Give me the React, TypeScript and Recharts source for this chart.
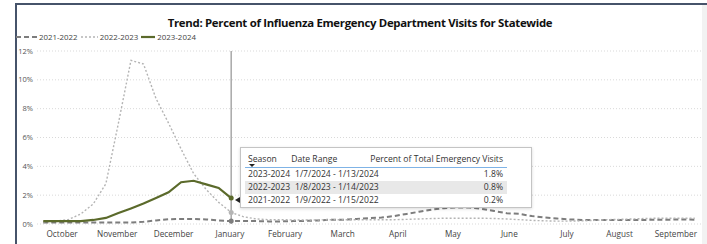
import React from "react";
import { LineChart, Line, XAxis, YAxis, CartesianGrid, Tooltip } from "recharts";

// weekly % of ED visits, week 0 = last week of September
const flu2122 = [
  0.1, 0.1, 0.1, 0.1, 0.1, 0.1, 0.1, 0.1, 0.15, 0.25, 0.33, 0.35, 0.35, 0.32,
  0.25, 0.2, 0.2, 0.2, 0.18, 0.18, 0.2, 0.22, 0.25, 0.3, 0.3, 0.35, 0.4, 0.45,
  0.55, 0.7, 0.85, 1.0, 1.1, 1.15, 1.15, 1.05, 0.9, 0.75, 0.7, 0.55, 0.45,
  0.38, 0.32, 0.28, 0.27, 0.27, 0.27, 0.27, 0.28, 0.3, 0.3, 0.32, 0.3,
];
const flu2223 = [
  0.15, 0.2, 0.3, 0.7, 1.4, 2.8, 7.0, 11.35, 11.1, 8.7, 7.0, 5.2, 3.5, 2.4,
  1.5, 0.8, 0.5, 0.35, 0.3, 0.3, 0.28, 0.28, 0.28, 0.3, 0.3, 0.3, 0.3, 0.3,
  0.3, 0.32, 0.35, 0.38, 0.4, 0.4, 0.4, 0.4, 0.38, 0.35, 0.3, 0.25, 0.22, 0.2,
  0.2, 0.22, 0.25, 0.3, 0.32, 0.35, 0.38, 0.4, 0.4, 0.4, 0.4,
];
const flu2324 = [
  0.2, 0.2, 0.2, 0.2, 0.28, 0.42, 0.76, 1.08, 1.42, 1.8, 2.2, 2.9, 3.0, 2.75,
  2.5, 1.8,
];

const monthTicks = [1.5, 5.9, 10.4, 14.9, 19.3, 23.9, 28.3, 32.7, 37.2, 41.8, 46, 50.5];
const monthLabels = [
  "October", "November", "December", "January", "February", "March",
  "April", "May", "June", "July", "August", "September",
];
const yTicks = [0, 2, 4, 6, 8, 10, 12];

const hoverWeek = 15;
const tipSeasons = ["2023-2024", "2022-2023", "2021-2022"];
const tipRanges = ["1/7/2024 - 1/13/2024", "1/8/2023 - 1/14/2023", "1/9/2022 - 1/15/2022"];
const tipSeries = [flu2324, flu2223, flu2122];

const series = [
  { key: "s2122", name: "2021-2022", color: "#7d7d7d", dash: "5 3", width: 2, swatch: 21 },
  { key: "s2223", name: "2022-2023", color: "#b4b4b4", dash: "2 2", width: 1.4, swatch: 17 },
  { key: "s2324", name: "2023-2024", color: "#5b6a2b", dash: undefined, width: 2.2, swatch: 14 },
];

const data = flu2122.map((v, i) => ({
  week: i,
  s2122: v,
  s2223: flu2223[i] ?? null,
  s2324: flu2324[i] ?? null,
}));

const FONT = '"Segoe UI", "Open Sans", sans-serif';

function HoverTable() {
  const cell = { fontSize: 8.6, color: "#333", whiteSpace: "nowrap" as const };
  return (
    <div
      style={{
        position: "absolute",
        left: 240,
        top: 147,
        boxSizing: "border-box",
        width: 292,
        height: 61,
        background: "#fff",
        border: "1px solid #c4c4c4",
        boxShadow: "0 1px 3px rgba(0,0,0,0.15)",
        fontFamily: FONT,
        zIndex: 5,
      }}
    >
      <div
        style={{
          position: "absolute",
          left: -6,
          top: 49,
          width: 0,
          height: 0,
          borderTop: "3.5px solid transparent",
          borderBottom: "3.5px solid transparent",
          borderRight: "5px solid #222",
        }}
      />
      <div style={{ position: "absolute", left: 4, top: 2, width: 262 }}>
        <div style={{ display: "flex", height: 17, alignItems: "center", borderBottom: "1.5px solid #7fb3e6", position: "relative" }}>
          <div style={{ ...cell, width: 47, paddingLeft: 3 }}>Season</div>
          <div style={{ ...cell, width: 86 }}>Date Range</div>
          <div style={{ ...cell, flex: 1, textAlign: "right", paddingRight: 4 }}>
            Percent of Total Emergency Visits
          </div>
          <div
            style={{
              position: "absolute",
              left: 4,
              bottom: 0,
              width: 0,
              height: 0,
              borderLeft: "3px solid transparent",
              borderRight: "3px solid transparent",
              borderTop: "3px solid #222",
            }}
          />
        </div>
        {tipSeasons.map((s, i) => (
          <div
            key={s}
            style={{
              display: "flex",
              height: 12.8,
              alignItems: "center",
              background: i === 1 ? "#e8e8e8" : "transparent",
            }}
          >
            <div style={{ ...cell, width: 47, paddingLeft: 3 }}>{s}</div>
            <div style={{ ...cell, width: 86 }}>{tipRanges[i]}</div>
            <div style={{ ...cell, flex: 1, textAlign: "right", paddingRight: 4 }}>
              {tipSeries[i][hoverWeek].toFixed(1)}%
            </div>
          </div>
        ))}
      </div>
    </div>
  );
}

export default function App() {
  return (
    <div
      style={{
        position: "absolute",
        left: 0,
        top: 0,
        width: 707,
        height: 244,
        background: "#fff",
        overflow: "hidden",
        fontFamily: FONT,
      }}
    >
      <LineChart
        width={707}
        height={244}
        data={data}
        margin={{ top: 51, right: 6, bottom: 0, left: 17 }}
      >
        <CartesianGrid vertical={false} stroke="#d9d9d9" strokeDasharray="1 2" />
        <XAxis
          dataKey="week"
          type="number"
          domain={[-0.5, 52.5]}
          ticks={monthTicks}
          interval={0}
          tickFormatter={(v) => monthLabels[monthTicks.indexOf(v)] ?? ""}
          axisLine={false}
          tickLine={false}
          tickSize={0}
          tickMargin={7}
          height={20}
          tick={{ fontSize: 8.2, fill: "#444", fontFamily: FONT }}
        />
        <YAxis
          domain={[0, 12]}
          ticks={yTicks}
          tickFormatter={(v) => `${v}%`}
          axisLine={false}
          tickLine={false}
          tickSize={0}
          tickMargin={4}
          width={20}
          tick={{ fontSize: 7.5, fill: "#555", fontFamily: FONT }}
        />
        {/* hover state: cursor line + active dots only, table drawn below */}
        <Tooltip
          defaultIndex={hoverWeek}
          content={() => null}
          isAnimationActive={false}
          cursor={{ stroke: "#a8a8a8", strokeWidth: 1.5 }}
        />
        {series.map((s) => (
          <Line
            key={s.key}
            dataKey={s.key}
            name={s.name}
            type="linear"
            stroke={s.color}
            strokeWidth={s.width}
            strokeDasharray={s.dash}
            dot={false}
            activeDot={{ r: 2.5, fill: s.color, stroke: "none" }}
            connectNulls={false}
            isAnimationActive={false}
          />
        ))}
      </LineChart>

      <HoverTable />

      {/* frame */}
      <div style={{ position: "absolute", left: 15, top: 3, width: 692, height: 2, background: "#46536a" }} />
      <div style={{ position: "absolute", left: 15, top: 3, width: 2, height: 241, background: "#46536a" }} />
      <div style={{ position: "absolute", left: 702, top: 5, width: 5, height: 239, background: "#f2f2f2" }} />

      <div
        style={{
          position: "absolute",
          left: 0,
          width: 720,
          top: 15,
          textAlign: "center",
          fontWeight: 700,
          fontSize: 11.4,
          letterSpacing: -0.3,
          color: "#111",
        }}
      >
        Trend: Percent of Influenza Emergency Department Visits for Statewide
      </div>

      <div
        style={{
          position: "absolute",
          left: 16,
          top: 31,
          display: "flex",
          alignItems: "center",
          fontSize: 7.9,
          color: "#444",
          height: 12,
        }}
      >
        {series.map((s) => (
          <div key={s.key} style={{ display: "flex", alignItems: "center", marginRight: 3 }}>
            <svg width={s.swatch} height={8} style={{ marginRight: 2 }}>
              <line x1={0} y1={4} x2={s.swatch} y2={4} stroke={s.color} strokeWidth={s.width} strokeDasharray={s.dash} />
            </svg>
            <span>{s.name}</span>
          </div>
        ))}
      </div>
    </div>
  );
}
